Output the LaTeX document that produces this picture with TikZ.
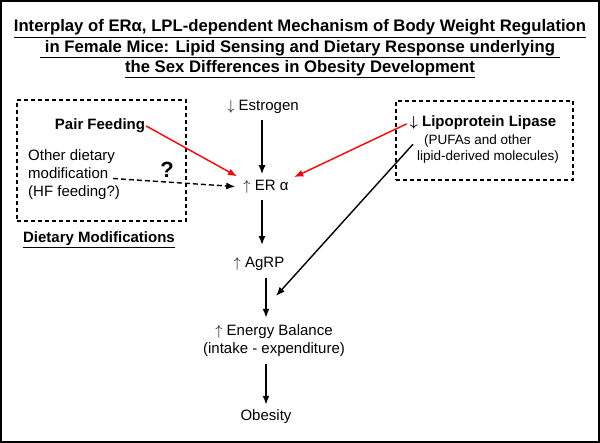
\documentclass[tikz,border=0pt]{standalone}
\usepackage{fontspec}
\setmainfont{Liberation Sans}
\usetikzlibrary{arrows.meta}
\newcommand{\upar}{$\uparrow$}
\newcommand{\dnar}{$\downarrow$}
\begin{document}
\begin{tikzpicture}[x=1pt,y=-1pt,
  txt/.style={font=\fontsize{15}{18}\selectfont, inner sep=1pt},
  stxt/.style={font=\fontsize{13.5}{16.5}\selectfont, inner sep=1pt},
  btxt/.style={font=\bfseries\fontsize{15}{18}\selectfont, inner sep=1pt},
  arr/.style={-{Latex[length=9pt,width=7pt]}, line width=1.6pt},
  redarr/.style={-{Latex[length=9pt,width=7pt]}, line width=1.4pt, red},
  dbox/.style={draw, dash pattern=on 4pt off 3pt, line width=1.2pt, inner sep=0pt}]
\useasboundingbox (0,0) rectangle (600,443);
\draw[line width=2pt] (1,1) rectangle (599,442);
% title
\node[font=\bfseries\fontsize{16.7}{20.5}\selectfont, align=center, inner sep=0pt] (title) at (300,49)
  {\underline{Interplay of ERα, LPL-dependent Mechanism of Body Weight Regulation}\\
   \underline{ in Female Mice: Lipid Sensing and Dietary Response underlying }\\
   \underline{the Sex Differences in Obesity Development}};
% boxes
\node[dbox, minimum width=169, minimum height=121] (lbox) at (101.5,160.5) {};
\node[dbox, minimum width=177, minimum height=79] (rbox) at (484.5,140.5) {};
% left box texts
\node[btxt] (pf) at (100,126) {Pair Feeding};
\node[txt, align=left, anchor=west] (odm) at (27,175) {Other dietary\\modification\\(HF feeding?)};
\node[font=\bfseries\fontsize{22}{24}\selectfont, inner sep=0pt] (q) at (167,170) {?};
\node[btxt] (dm) at (99,240) {\underline{Dietary Modifications}};
% right box texts
\node[btxt] (lpl) at (483,123) {{\boldmath\dnar}\ Lipoprotein Lipase};
\node[stxt, align=left, anchor=west] (pufa) at (416,149) {\hspace{7pt}(PUFAs and other\\lipid-derived molecules)};
% central chain
\node[txt] (estr) at (263,107) {\dnar\ Estrogen};
\node[txt] (era) at (266,187) {\upar\ ER α};
\node[txt] (agrp) at (259,264) {\upar\ AgRP};
\node[txt, align=center] (eb) at (274,341) {\upar\ Energy Balance\\(intake - expenditure)};
\node[txt] (ob) at (266,417) {Obesity};
\coordinate (dstart) at (113,178.5);
\coordinate (lplend) at (276,296);
% connectors
\draw[arr, shorten <=5pt, shorten >=5pt] (estr.south -| era.south) ++(-4,0) coordinate (ax) (ax) -- (ax |- era.north);
\draw[arr, shorten <=5pt, shorten >=11pt] (ax |- era.south) -- (ax |- agrp.north);
\draw[arr, shorten <=6pt, shorten >=6pt] (agrp.south -| ob.north) -- (eb.north -| ob.north);
\draw[arr, shorten <=6pt, shorten >=4pt] (eb.south -| ob.north) -- (ob.north);
\draw[line width=1.4pt, -{Latex[length=9pt,width=7pt]}] ([xshift=-3pt,yshift=-11pt]pufa.north west) -- (lplend);
\draw[redarr, shorten >=6pt] (pf.east) -- (era.north west);
\draw[redarr, shorten <=2pt, shorten >=5pt] (lpl.west) -- (era.north east);
\draw[line width=1.4pt, dash pattern=on 5pt off 3pt, -{Latex[length=9pt,width=7pt]}, shorten >=7pt] (dstart) -- (era.west);
\end{tikzpicture}
\end{document}
